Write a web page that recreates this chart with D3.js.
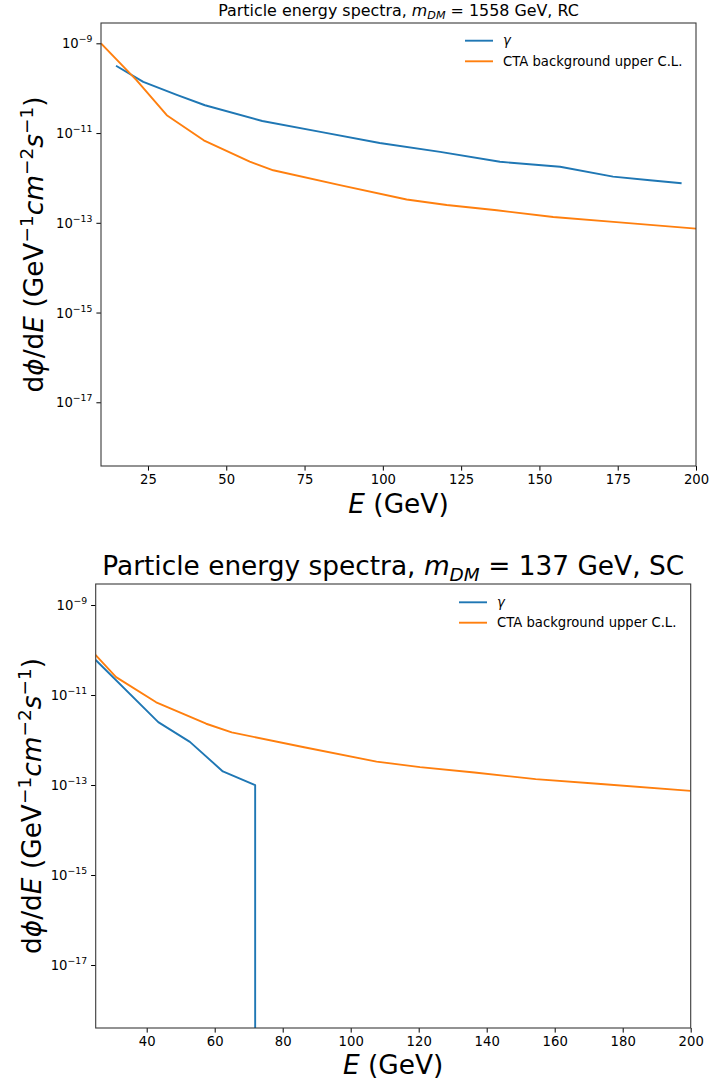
<!DOCTYPE html>
<html>
<head>
<meta charset="utf-8">
<script src="https://cdn.jsdelivr.net/npm/d3@7"></script>
<style>
  html, body { margin: 0; padding: 0; background: #fff; }
  svg { display: block; font-family: "DejaVu Sans", sans-serif; }
</style>
</head>
<body>
<svg id="chart" width="709" height="1084"></svg>
<script>
// ---------------- data ----------------
// CTA background upper C.L. (shared by both panels)
const ctaEnergy = [10, 21.4, 31, 42.8, 57.5, 65, 86.3, 107.6, 120.4, 136.4, 154.4, 173.6, 200];
const ctaFlux   = [1.0e-9, 1.5e-10, 2.5e-11, 6.9e-12, 2.3e-12, 1.48e-12, 6.9e-13, 3.3e-13, 2.5e-13, 1.9e-13, 1.35e-13, 1.05e-13, 7.4e-14];

// gamma spectrum, m_DM = 1558 GeV, RC
const gammaRCEnergy = [14.8, 23.5, 34.2, 43.2, 61.5, 80.5, 99, 118.3, 137.4, 156.6, 173.5, 185.3, 195.4];
const gammaRCFlux   = [3.16e-10, 1.38e-10, 7.1e-11, 4.17e-11, 1.86e-11, 1.05e-11, 6.0e-12, 3.8e-12, 2.29e-12, 1.78e-12, 1.07e-12, 8.9e-13, 7.6e-13];

// gamma spectrum, m_DM = 137 GeV, SC (drops to zero above ~72 GeV)
const gammaSCEnergy = [25, 43.4, 52.7, 62.4, 71.9, 81];
const gammaSCFlux   = [6.0e-11, 2.5e-12, 9.1e-13, 2.0e-13, 1.0e-13, 0];

const seriesNames = ["γ", "CTA background upper C.L."];
const seriesColors = ["#1f77b4", "#ff7f0e"];

const xTicksRC = [25, 50, 75, 100, 125, 150, 175, 200];
const xTicksSC = [40, 60, 80, 100, 120, 140, 160, 180, 200];
const yTickExponents = [-9, -11, -13, -15, -17];

// ---------------- drawing ----------------
const svg = d3.select("#chart");
const TICK_FS = 13.2, LABEL_FS = 26.4;

function drawPanel(cfg) {
  const g = svg.append("g");
  const x = d3.scaleLinear().domain(cfg.xDomain).range([cfg.left, cfg.right]);
  const y = d3.scaleLog().domain(cfg.yDomain).range([cfg.bottom, cfg.top]);
  const clipId = "clip" + cfg.id;
  svg.append("clipPath").attr("id", clipId).append("rect")
    .attr("x", cfg.left).attr("y", cfg.top)
    .attr("width", cfg.right - cfg.left).attr("height", cfg.bottom - cfg.top);

  const line = d3.line()
    .x(d => x(d[0]))
    .y(d => d[1] > 0 ? y(d[1]) : cfg.bottom + 1e6);

  cfg.series.forEach((s) => {
    g.append("path")
      .datum(d3.zip(s.energy, s.flux))
      .attr("clip-path", `url(#${clipId})`)
      .attr("fill", "none")
      .attr("stroke", seriesColors[s.colorIndex])
      .attr("stroke-width", 1.9)
      .attr("stroke-linejoin", "round")
      .attr("d", line);
  });

  // axes
  const xAxis = d3.axisBottom(x).tickValues(cfg.xTicks).tickSize(4.6).tickPadding(4.4).tickFormat(d3.format("d"));
  const gx = g.append("g").attr("transform", `translate(0,${cfg.bottom})`).call(xAxis);
  gx.select(".domain").remove();
  gx.selectAll(".tick line").attr("stroke", "#000").attr("stroke-width", 1);
  gx.selectAll(".tick text").attr("font-size", TICK_FS).attr("fill", "#000")
    .attr("font-family", "DejaVu Sans");

  const yAxis = d3.axisLeft(y).tickValues(yTickExponents.map(e => Math.pow(10, e))).tickSize(4.6).tickFormat("");
  const gy = g.append("g").attr("transform", `translate(${cfg.left},0)`).call(yAxis);
  gy.select(".domain").remove();
  gy.selectAll(".tick line").attr("stroke", "#000").attr("stroke-width", 1);
  gy.selectAll(".tick").each(function(d) {
    const e = Math.round(Math.log10(d));
    const t = d3.select(this).append("text")
      .attr("x", -8.6).attr("y", 0).attr("dy", "0.35em")
      .attr("text-anchor", "end").attr("fill", "#000")
      .attr("font-size", TICK_FS).attr("font-family", "DejaVu Sans");
    t.append("tspan").text("10");
    t.append("tspan").attr("font-size", 9.3).attr("dy", -6).text("−" + Math.abs(e));
  });

  // frame
  g.append("rect")
    .attr("x", cfg.left).attr("y", cfg.top)
    .attr("width", cfg.right - cfg.left).attr("height", cfg.bottom - cfg.top)
    .attr("fill", "none").attr("stroke", "#3a3a3a").attr("stroke-width", 1.1);

  // title
  const cx = (cfg.left + cfg.right) / 2;
  const title = g.append("text").attr("x", cx).attr("y", cfg.titleY)
    .attr("text-anchor", "middle").attr("font-size", cfg.titleSize).attr("fill", "#000");
  title.append("tspan").text("Particle energy spectra, ");
  title.append("tspan").attr("font-style", "italic").text("m");
  title.append("tspan").attr("font-style", "italic").attr("font-size", cfg.titleSize * 0.7).attr("dy", cfg.titleSize * 0.22).text("DM");
  title.append("tspan").attr("dy", -cfg.titleSize * 0.22).text(" = " + cfg.titleTail);

  // x label
  const xl = g.append("text").attr("x", cx).attr("y", cfg.xLabelY)
    .attr("text-anchor", "middle").attr("font-size", LABEL_FS).attr("fill", "#000");
  xl.append("tspan").attr("font-style", "italic").text("E");
  xl.append("tspan").text(" (GeV)");

  // y label
  const cy = (cfg.top + cfg.bottom) / 2;
  const yl = g.append("text")
    .attr("transform", `translate(${cfg.yLabelX},${cy}) rotate(-90)`)
    .attr("text-anchor", "middle").attr("font-size", LABEL_FS).attr("fill", "#000");
  const sup = 18.5, up = 10.5;
  yl.append("tspan").text("d");
  yl.append("tspan").attr("font-style", "italic").text("ϕ");
  yl.append("tspan").text("/d");
  yl.append("tspan").attr("font-style", "italic").text("E");
  yl.append("tspan").text(" (GeV");
  yl.append("tspan").attr("font-size", sup).attr("dy", -up).text("−1");
  yl.append("tspan").attr("font-style", "italic").attr("dy", up).text("cm");
  yl.append("tspan").attr("font-size", sup).attr("dy", -up).text("−2");
  yl.append("tspan").attr("font-style", "italic").attr("dy", up).text("s");
  yl.append("tspan").attr("font-size", sup).attr("dy", -up).text("−1");
  yl.append("tspan").attr("dy", up).text(")");

  // legend (no frame)
  seriesNames.forEach((name, i) => {
    const ly = cfg.legendY + i * cfg.legendStep;
    g.append("line")
      .attr("x1", cfg.legendX).attr("x2", cfg.legendX + 28)
      .attr("y1", ly).attr("y2", ly)
      .attr("stroke", seriesColors[i]).attr("stroke-width", 1.9);
    g.append("text").attr("x", cfg.legendX + 38).attr("y", ly).attr("dy", "0.35em")
      .attr("font-size", TICK_FS).attr("fill", "#000")
      .attr("font-style", i === 0 ? "italic" : "normal")
      .text(name);
  });
}

drawPanel({
  id: "RC",
  left: 101, right: 696, top: 23, bottom: 466,
  xDomain: [10, 200], yDomain: [Math.pow(10, -18.42), Math.pow(10, -8.547)],
  xTicks: xTicksRC,
  series: [
    { energy: gammaRCEnergy, flux: gammaRCFlux, colorIndex: 0 },
    { energy: ctaEnergy, flux: ctaFlux, colorIndex: 1 }
  ],
  titleTail: "1558 GeV, RC", titleSize: 15.9, titleY: 15.5,
  xLabelY: 513, yLabelX: 43,
  legendX: 465, legendY: 40.7, legendStep: 20.6
});

drawPanel({
  id: "SC",
  left: 95.7, right: 690.7, top: 584, bottom: 1028,
  xDomain: [25, 200], yDomain: [Math.pow(10, -18.4), Math.pow(10, -8.533)],
  xTicks: xTicksSC,
  series: [
    { energy: gammaSCEnergy, flux: gammaSCFlux, colorIndex: 0 },
    { energy: ctaEnergy, flux: ctaFlux, colorIndex: 1 }
  ],
  titleTail: "137 GeV, SC", titleSize: 26.4, titleY: 575,
  xLabelY: 1074, yLabelX: 41,
  legendX: 459, legendY: 602.3, legendStep: 20.4
});
</script>
</body>
</html>
